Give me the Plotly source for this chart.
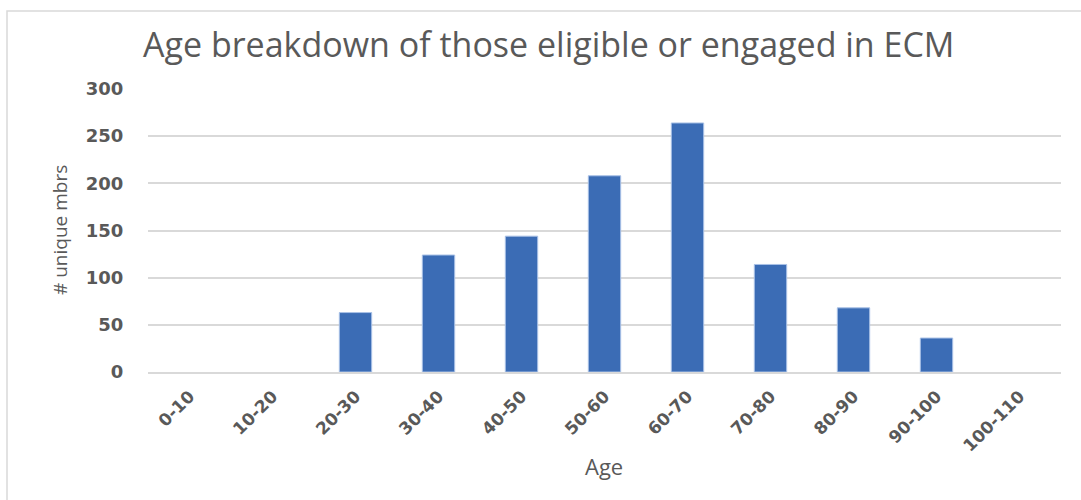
import plotly.graph_objects as go

categories = ["0-10", "10-20", "20-30", "30-40", "40-50", "50-60", "60-70",
              "70-80", "80-90", "90-100", "100-110"]
values = [0, 0, 63, 124, 144, 208, 264, 114, 68, 36, 0]
y_ticks = [0, 50, 100, 150, 200, 250, 300]

W, H = 1081, 500
L, R, T, B = 148, 20, 89, 128
pw, ph = W - L - R, H - T - B

def px_x(p):
    return (p - L) / pw

def px_y(p):
    return (H - B - p) / ph

fig = go.Figure(go.Bar(
    x=categories, y=values,
    marker=dict(color="#3b6cb5",
                line=dict(color="#a9c1e6", width=[0 if v == 0 else 1 for v in values])),
))

grey = "#595959"
fig.update_layout(
    width=W, height=H,
    margin=dict(l=L, r=R, t=T, b=B),
    paper_bgcolor="white", plot_bgcolor="white",
    bargap=0.61,
    showlegend=False,
    font=dict(family="DejaVu Sans", color=grey),
    xaxis=dict(
        type="category", tickangle=-45, showgrid=False,
        showline=True, linecolor="#d9d9d9", linewidth=1.5,
        tickfont=dict(family="DejaVu Sans", size=17, color=grey, weight="bold"),
        ticks="outside", ticklen=6, tickcolor="white",
    ),
    yaxis=dict(
        range=[0, 300], tickvals=y_ticks, showgrid=True,
        gridcolor="#d9d9d9", gridwidth=1.5, zeroline=False,
        tickfont=dict(family="DejaVu Sans", size=18, color=grey, weight="bold"),
        ticks="outside", ticklen=20, tickcolor="white",
    ),
    annotations=[
        dict(text="Age breakdown of those eligible or engaged in ECM",
             xref="paper", yref="paper", x=px_x(548), y=px_y(44),
             xanchor="center", yanchor="middle", showarrow=False,
             font=dict(family="Open Sans", size=34, color=grey)),
        dict(text="Age", xref="paper", yref="paper", x=px_x(604), y=px_y(466),
             xanchor="center", yanchor="middle", showarrow=False,
             font=dict(family="Open Sans", size=22, color=grey)),
        dict(text="# unique mbrs", xref="paper", yref="paper", x=px_x(60), y=px_y(230),
             xanchor="center", yanchor="middle", showarrow=False, textangle=-90,
             font=dict(family="Open Sans", size=19, color=grey)),
    ],
    shapes=[
        dict(type="rect", xref="paper", yref="paper",
             x0=px_x(7), y0=px_y(510), x1=px_x(1090), y1=px_y(11),
             line=dict(color="#d9d9d9", width=1.5), fillcolor="rgba(0,0,0,0)",
             layer="below"),
    ],
)

fig.write_html("out.html")
